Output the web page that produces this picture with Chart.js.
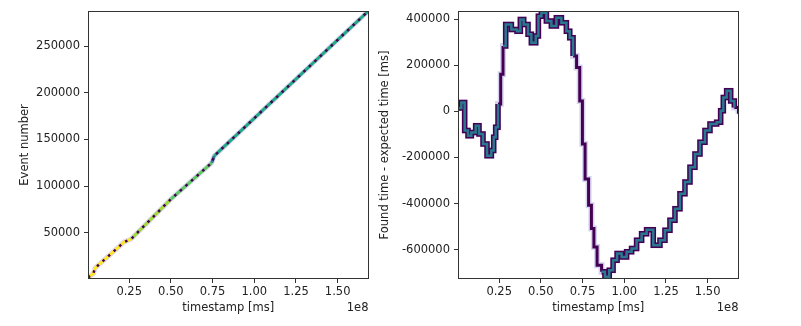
<!DOCTYPE html>
<html>
<head>
<meta charset="utf-8">
<script src="https://cdn.jsdelivr.net/npm/chart.js@4.4.0/dist/chart.umd.min.js"></script>
<style>
  body { margin: 0; background: #fff; }
  #wrap { position: relative; width: 801px; height: 326px; }
  canvas { position: absolute; top: 0; }
</style>
</head>
<body>
<div id="wrap">
  <canvas id="eventChart" width="370" height="326" style="left:0"></canvas>
  <canvas id="diffChart" width="431" height="326" style="left:370px"></canvas>
</div>
<script>
// Datos (timestamp en ms)
const eventTimes = [0.3e6, 3.5e6, 4.5e6, 22e6, 26e6, 50e6, 74.5e6, 76e6, 168.5e6];
const eventNumbers = [2000, 6000, 12000, 40000, 43000, 86000, 125000, 132500, 288000];

const diffTimes = [0.3, 2.3, 4.3, 6.3, 8.3, 10.9, 12.9, 15.3, 17.7, 20.3,
  21.7, 22.9, 24.3, 25.9, 27.3, 28.9, 32.3, 35.7, 37.7, 39.7,
  42.3, 44.3, 46.9, 48.5, 50.3, 53.3, 56.3, 59.3, 62.3, 65.3,
  67.3, 69.3, 71.4, 73.3, 74.9, 76.5, 78.6, 80.3, 81.8, 83.7,
  86.4, 88.4, 91.0, 93.3, 95.7, 98.4, 101.4, 104.4, 107.4, 110.4,
  113.4, 117.4, 121.4, 124.4, 127.4, 130.4, 133.4, 136.4, 139.4, 142.4,
  145.4, 148.4, 151.4, 155.4, 157.8, 159.4, 161.4, 163.8, 166.0, 168.5].map(t => t * 1e6);
const diffValues = [15000, 39000, -83000, -105000, -91000, -62000, -98000, -141000, -192000, -170000,
  -112000, -69000, 32000, 162000, 284000, 378000, 356000, 349000, 400000, 378000,
  335000, 299000, 328000, 414000, 429000, 393000, 371000, 407000, 385000, 349000,
  320000, 241000, 191000, 46000, -141000, -293000, -408000, -509000, -589000, -668000,
  -697000, -718000, -690000, -646000, -617000, -632000, -610000, -596000, -560000, -531000,
  -514000, -581000, -560000, -516000, -473000, -423000, -358000, -307000, -242000, -185000,
  -134000, -83000, -55000, -47000, 3000, 61000, 90000, 46000, 17000, -10000];

const xTicks = [0.25e8, 0.5e8, 0.75e8, 1.0e8, 1.25e8, 1.5e8];
const eventTicks = [50000, 100000, 150000, 200000, 250000];
const diffTicks = [-600000, -400000, -200000, 0, 200000, 400000];

Chart.defaults.font.family = '"DejaVu Sans"';
Chart.defaults.font.size = 11.5;
Chart.defaults.color = '#222';

const toPoints = (xs, ys) => xs.map((x, i) => ({ x: x, y: ys[i] }));

// marco completo + texto de escala 1e8
const framePlugin = {
  id: 'frame',
  afterDraw(chart) {
    const { ctx, chartArea: a } = chart;
    ctx.save();
    ctx.strokeStyle = '#333';
    ctx.lineWidth = 1;
    ctx.strokeRect(Math.round(a.left) + 0.5, Math.round(a.top) + 0.5,
      Math.round(a.right - a.left) - 1, Math.round(a.bottom - a.top) - 1);
    ctx.fillStyle = '#222';
    ctx.font = '11.5px "DejaVu Sans"';
    ctx.textAlign = 'right';
    ctx.textBaseline = 'middle';
    ctx.fillText('1e8', a.right, 308);
    ctx.restore();
  }
};

function xScale() {
  return {
    type: 'linear',
    min: 0.3e6,
    max: 168.5e6,
    afterBuildTicks: s => { s.ticks = xTicks.map(v => ({ value: v })); },
    afterFit: s => { s.height = 40; },
    ticks: { padding: 2, callback: v => (v / 1e8).toFixed(2) },
    grid: { drawOnChartArea: false, tickLength: 4, color: '#333' },
    border: { display: false },
    title: { display: true, text: 'timestamp [ms]', padding: { top: 0, bottom: 4 } }
  };
}

function yScale(min, max, ticks, width, label) {
  return {
    min: min,
    max: max,
    afterBuildTicks: s => { s.ticks = ticks.map(v => ({ value: v })); },
    afterFit: s => { s.width = width; },
    ticks: { padding: 4, callback: v => String(v) },
    grid: { drawOnChartArea: false, tickLength: 4, color: '#333' },
    border: { display: false },
    title: { display: true, text: label, padding: { top: 4, bottom: 0 } }
  };
}

function eventColor(ctx) {
  const x = (ctx.p0.parsed.x + ctx.p1.parsed.x) / 2;
  if (x < 25e6) return '#fde725';
  if (x < 45e6) return '#a0da39';
  if (x < 70e6) return '#5ec962';
  if (x < 75e6) return '#d8e219';
  if (x < 110e6) return '#2a788e';
  if (x < 140e6) return '#22a884';
  if (x < 148e6) return '#35b779';
  return '#fde725';
}

// los datasets con indice menor se dibujan encima
const ctxEvent = document.getElementById('eventChart').getContext('2d');
const eventChart = new Chart(ctxEvent, {
  type: 'line',
  data: {
    datasets: [{
      data: toPoints(eventTimes, eventNumbers),
      borderColor: '#440154',
      borderWidth: 2.5,
      borderDash: [2.5, 5],
      pointRadius: 0
    }, {
      data: toPoints(eventTimes, eventNumbers),
      borderWidth: 3,
      pointRadius: 0,
      segment: { borderColor: eventColor }
    }, {
      data: toPoints(eventTimes, eventNumbers),
      borderColor: 'rgba(205,200,235,0.7)',
      borderWidth: 5,
      pointRadius: 0
    }]
  },
  options: {
    responsive: false,
    animation: false,
    layout: { padding: { left: 14, right: 1.5, top: 9.5, bottom: 7 } },
    plugins: { legend: { display: false }, tooltip: { enabled: false } },
    scales: {
      x: xScale(),
      y: yScale(300, 288000, eventTicks, 74, 'Event number')
    }
  },
  plugins: [framePlugin]
});

// zonas con celdas de mayor cuenta (verde-azulado)
function busyZone(x) {
  return x < 24e6 || (x > 27e6 && x < 68e6) || (x > 86e6 && x < 166e6);
}

const ctxDiff = document.getElementById('diffChart').getContext('2d');
const diffChart = new Chart(ctxDiff, {
  type: 'line',
  data: {
    datasets: [{
      data: toPoints(diffTimes, diffValues),
      stepped: true,
      borderWidth: 2.5,
      pointRadius: 0,
      segment: { borderColor: ctx => busyZone(ctx.p0.parsed.x) ? '#2a788e' : 'rgba(0,0,0,0)' }
    }, {
      data: toPoints(diffTimes, diffValues),
      stepped: true,
      borderColor: '#440154',
      pointRadius: 0,
      segment: { borderWidth: ctx => busyZone(ctx.p0.parsed.x) ? 5.5 : 3 }
    }, {
      data: toPoints(diffTimes, diffValues),
      stepped: true,
      borderColor: 'rgba(205,200,235,0.8)',
      borderWidth: 6,
      pointRadius: 0
    }]
  },
  options: {
    responsive: false,
    animation: false,
    layout: { padding: { left: 4, right: 62.5, top: 9.5, bottom: 7 } },
    plugins: { legend: { display: false }, tooltip: { enabled: false } },
    scales: {
      x: xScale(),
      y: yScale(-728000, 437000, diffTicks, 84, 'Found time - expected time [ms]')
    }
  },
  plugins: [framePlugin]
});
</script>
</body>
</html>
